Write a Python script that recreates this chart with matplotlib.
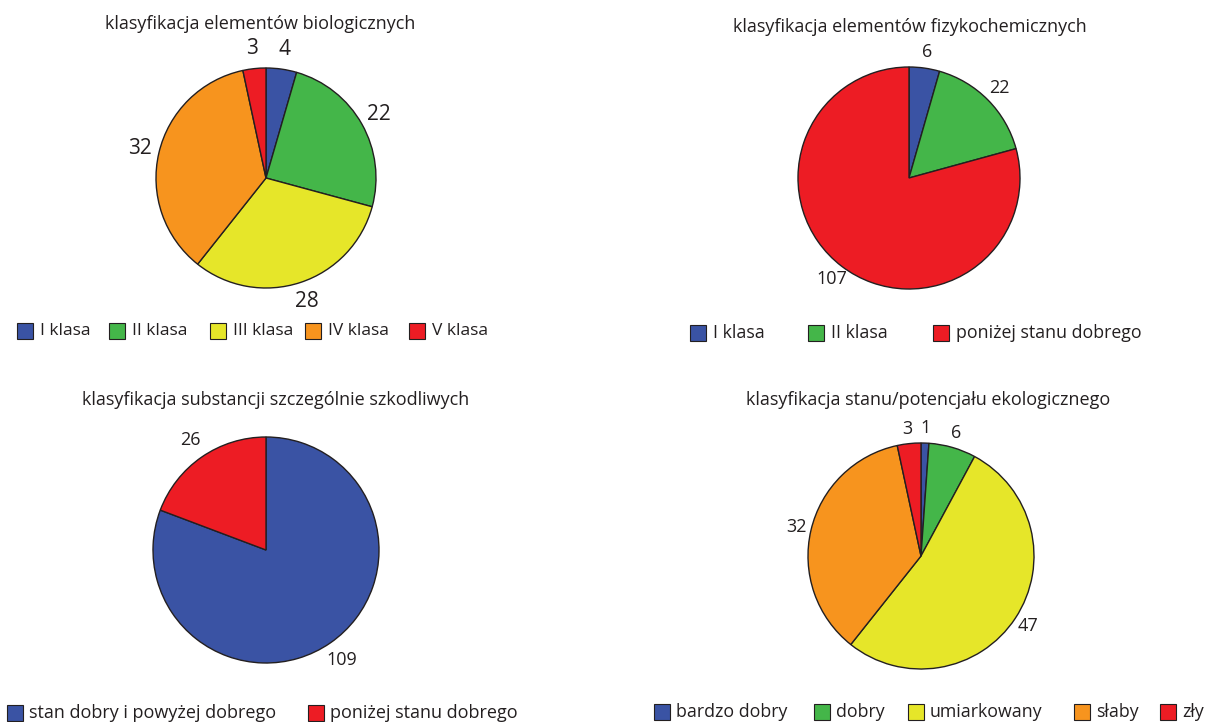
import matplotlib.pyplot as plt
from matplotlib.patches import Rectangle
import numpy as np

plt.rcParams['font.family'] = ['Open Sans', 'DejaVu Sans']

BLUE = '#3a53a4'
GREEN = '#44b649'
YELLOW = '#e6e629'
ORANGE = '#f7941e'
RED = '#ed1c24'

# klasyfikacja elementów biologicznych
bio_labels = ['I klasa', 'II klasa', 'III klasa', 'IV klasa', 'V klasa']
bio_values = [4, 22, 28, 32, 3]
bio_colors = [BLUE, GREEN, YELLOW, ORANGE, RED]

# klasyfikacja elementów fizykochemicznych
fiz_labels = ['I klasa', 'II klasa', 'poniżej stanu dobrego']
fiz_values = [6, 22, 107]
fiz_colors = [BLUE, GREEN, RED]

# substancje szczególnie szkodliwe
sub_labels = ['stan dobry i powyżej dobrego', 'poniżej stanu dobrego']
sub_values = [109, 26]
sub_colors = [BLUE, RED]

# stan/potencjał ekologiczny
eko_labels = ['bardzo dobry', 'dobry', 'umiarkowany', 'słaby', 'zły']
eko_values = [1, 6, 47, 32, 3]
eko_colors = [BLUE, GREEN, YELLOW, ORANGE, RED]

W, H = 1210, 722
fig = plt.figure(figsize=(W / 100, H / 100), dpi=100)
fig.patch.set_facecolor('white')

# overlay in pixel coordinates for titles and legends
over = fig.add_axes([0, 0, 1, 1])
over.set_xlim(0, W)
over.set_ylim(H, 0)
over.axis('off')


def draw_pie(cx, cy, r, values, colors, title, tx, ty, lab_size, lab_r=1.18):
    ax = fig.add_axes([(cx - r) / W, 1 - (cy + r) / H, 2 * r / W, 2 * r / H])
    wedges, _ = ax.pie(values, colors=colors, startangle=90, counterclock=False,
                       radius=1, wedgeprops=dict(edgecolor='#231f20', linewidth=1.0))
    ax.set_xlim(-1, 1)
    ax.set_ylim(-1, 1)
    ax.set_aspect('equal')
    ax.axis('off')
    for w in wedges:
        w.set_clip_on(False)
    for w, v in zip(wedges, values):
        mid = np.deg2rad((w.theta1 + w.theta2) / 2)
        ax.text(lab_r * np.cos(mid), lab_r * np.sin(mid), str(v),
                ha='center', va='center', fontsize=lab_size, color='#231f20',
                clip_on=False)
    over.text(tx, ty, title, ha='center', va='center', fontsize=13, color='#231f20')


def draw_legend(y, xs, labels, colors, gap=22, box=16, size=12.8):
    for x, lab, c in zip(xs, labels, colors):
        over.add_patch(Rectangle((x, y - box / 2), box, box, facecolor=c,
                                 edgecolor='#231f20', linewidth=0.8))
        over.text(x + gap, y, lab, ha='left', va='center', fontsize=size, color='#231f20')


draw_pie(266, 178, 110, bio_values, bio_colors,
         'klasyfikacja elementów biologicznych', 260, 24, 15)
draw_legend(331, [17, 109, 210, 305, 409], bio_labels, bio_colors, gap=23, size=12.5)

draw_pie(909, 178, 111, fiz_values, fiz_colors,
         'klasyfikacja elementów fizykochemicznych', 910, 27, 13, 1.15)
draw_legend(333, [690, 808, 933], fiz_labels, fiz_colors, gap=23)

draw_pie(266, 550, 113, sub_values, sub_colors,
         'klasyfikacja substancji szczególnie szkodliwych', 276, 400, 13)
draw_legend(713, [7, 308], sub_labels, sub_colors, size=13)

draw_pie(921, 556, 113, eko_values, eko_colors,
         'klasyfikacja stanu/potencjału ekologicznego', 928, 400, 13, 1.13)
draw_legend(712, [654, 814, 908, 1074, 1160], eko_labels, eko_colors)

fig.savefig('out.png', dpi=100)
